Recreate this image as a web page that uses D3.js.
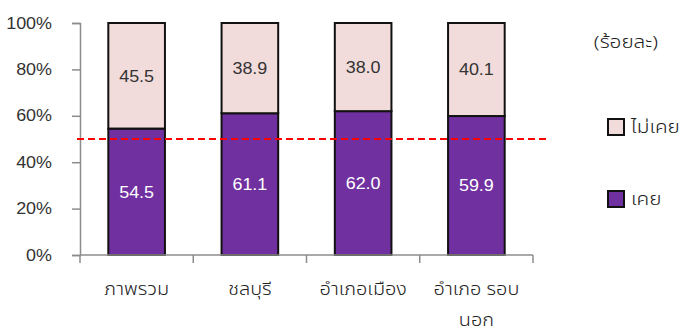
<!DOCTYPE html>
<html>
<head>
<meta charset="utf-8">
<script src="https://cdn.jsdelivr.net/npm/d3@7"></script>
<style>
  html, body { margin: 0; padding: 0; background: #fff; }
  svg { display: block; }
  .thai { font-family: "Noto Sans Thai", "Noto Sans Thai UI", "Noto Sans", "DejaVu Sans", sans-serif; font-weight: 300; }
  .num { font-family: "Liberation Sans", Arial, sans-serif; }
</style>
</head>
<body>
<svg id="chart" width="683" height="335"></svg>
<script>
(function () {
// Share of respondents (percent) by area
const categories = [["ภาพรวม"], ["ชลบุรี"], ["อำเภอเมือง"], ["อำเภอ รอบ", "นอก"]];
const everValues = [54.5, 61.1, 62.0, 59.9];   // เคย
const neverValues = [45.5, 38.9, 38.0, 40.1];  // ไม่เคย
const yTicks = [0, 20, 40, 60, 80, 100];
const threshold = 50;
const seriesNames = ["ไม่เคย", "เคย"];
const unitLabel = "(ร้อยละ)";

const colors = { ever: "#7030A0", never: "#F2DCDB" };

const svg = d3.select("#chart");
const plot = { left: 80, right: 533, top: 23, bottom: 255 };

// Widen text glyphs horizontally by a factor, keeping the anchor in place
function widen(sel, factor) {
  sel.each(function () {
    const w = this.getComputedTextLength();
    if (w > 0) {
      d3.select(this)
        .attr("textLength", w * factor)
        .attr("lengthAdjust", "spacingAndGlyphs");
    }
  });
}

const x = d3.scaleBand()
  .domain(d3.range(categories.length))
  .range([plot.left, plot.right])
  .paddingInner(0.5)
  .paddingOuter(0.25);

const y = d3.scaleLinear().domain([0, 100]).range([plot.bottom, plot.top]);

// Stacked rows
const rows = categories.map((c, i) => ({ i, ever: everValues[i], never: neverValues[i] }));
const stack = d3.stack().keys(["ever", "never"])(rows);

const g = svg.append("g");

stack.forEach(layer => {
  const key = layer.key;
  g.selectAll(null)
    .data(layer)
    .enter()
    .append("rect")
    .attr("x", d => x(d.data.i))
    .attr("width", x.bandwidth())
    .attr("y", d => y(d[1]))
    .attr("height", d => y(d[0]) - y(d[1]))
    .attr("fill", colors[key])
    .attr("stroke", "#111")
    .attr("stroke-width", 2);

  const labels = g.selectAll(null)
    .data(layer)
    .enter()
    .append("text")
    .attr("class", "num")
    .attr("x", d => x(d.data.i) + x.bandwidth() / 2)
    .attr("y", d => (y(d[0]) + y(d[1])) / 2)
    .attr("dy", "0.36em")
    .attr("text-anchor", "middle")
    .attr("font-size", 16)
    .attr("fill", key === "ever" ? "#fff" : "#333")
    .text(d => d.data[key].toFixed(1));
  widen(labels, 1.12);
});

// Y axis
const yAxis = d3.axisLeft(y)
  .tickValues(yTicks)
  .tickSize(8)
  .tickPadding(20)
  .tickFormat(d => d + "%");
const ya = svg.append("g").attr("transform", `translate(${plot.left},0)`).call(yAxis);
ya.select(".domain").attr("stroke", "#8c8c8c").attr("stroke-width", 1.5);
ya.selectAll(".tick line").attr("stroke", "#8c8c8c").attr("stroke-width", 1.5);
const yLabels = ya.selectAll(".tick text")
  .attr("class", "num")
  .attr("font-family", null)
  .attr("font-size", 16)
  .attr("fill", "#333");
widen(yLabels, 1.12);

// X axis line with ticks at band boundaries
const boundaries = d3.range(categories.length + 1).map(k => plot.left + k * x.step());
svg.append("line")
  .attr("x1", plot.left).attr("x2", plot.right)
  .attr("y1", plot.bottom).attr("y2", plot.bottom)
  .attr("stroke", "#8c8c8c").attr("stroke-width", 1.5);
svg.selectAll(null)
  .data(boundaries)
  .enter()
  .append("line")
  .attr("x1", d => d).attr("x2", d => d)
  .attr("y1", plot.bottom).attr("y2", plot.bottom + 8)
  .attr("stroke", "#8c8c8c").attr("stroke-width", 1.5);

// Category labels (second line for wrapped names)
const catText = svg.selectAll(null)
  .data(categories)
  .enter()
  .append("text")
  .attr("class", "thai")
  .attr("text-anchor", "middle")
  .attr("font-size", 17)
  .attr("fill", "#222")
  .attr("transform", (d, i) => `translate(${x(i) + x.bandwidth() / 2},${plot.bottom + 40})`);
const catLines = catText.selectAll("tspan")
  .data(d => d)
  .enter()
  .append("tspan")
  .attr("x", 0)
  .attr("y", (d, k) => k * 31)
  .text(d => d);
widen(catLines, 1.17);

// 50% reference line
svg.append("line")
  .attr("x1", plot.left - 3).attr("x2", 548)
  .attr("y1", y(threshold)).attr("y2", y(threshold))
  .attr("stroke", "#ff0000")
  .attr("stroke-width", 2)
  .attr("stroke-dasharray", "7,4");

// Unit label
const unit = svg.append("text")
  .attr("class", "thai")
  .attr("x", 626).attr("y", 42)
  .attr("dy", "0.35em")
  .attr("text-anchor", "middle")
  .attr("font-size", 17)
  .attr("fill", "#222")
  .text(unitLabel);
widen(unit, 1.22);

// Legend
const legend = [
  { name: seriesNames[0], color: colors.never, cy: 127 },
  { name: seriesNames[1], color: colors.ever, cy: 199 }
];
const lg = svg.selectAll(null).data(legend).enter().append("g");
lg.append("rect")
  .attr("x", 608).attr("y", d => d.cy - 8)
  .attr("width", 16).attr("height", 16)
  .attr("fill", d => d.color)
  .attr("stroke", "#111").attr("stroke-width", 2);
const legText = lg.append("text")
  .attr("class", "thai")
  .attr("x", 631).attr("y", d => d.cy)
  .attr("dy", "0.35em")
  .attr("font-size", 17)
  .attr("fill", "#222")
  .text(d => d.name);
widen(legText, 1.22);
})();
</script>
</body>
</html>
